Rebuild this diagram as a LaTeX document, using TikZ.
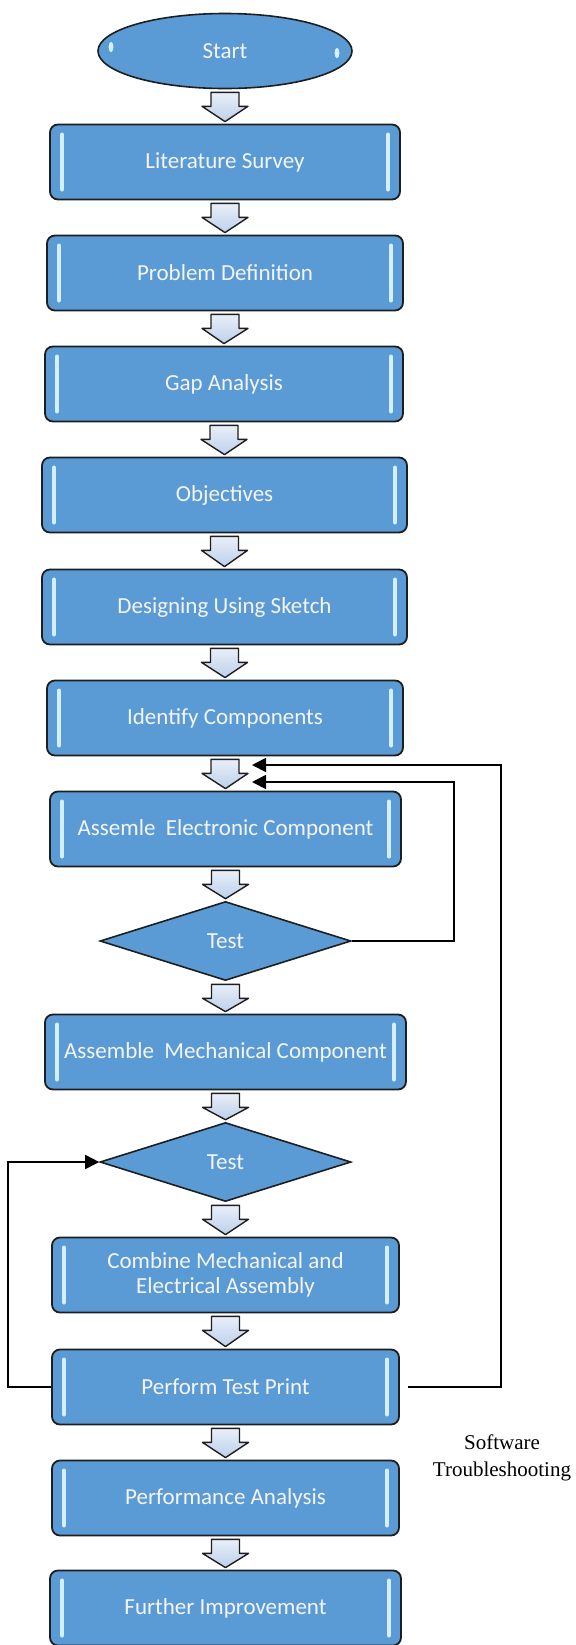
\documentclass[tikz,border=0pt]{standalone}
\usepackage{fontspec}
\setmainfont{Carlito}
\newfontfamily\notefont{Liberation Serif}
\usepackage{tikz}
\usepackage{xcolor}
\usetikzlibrary{shapes.geometric,arrows.meta,calc}

\definecolor{stepblue}{HTML}{5B9BD5}
\definecolor{stepedge}{HTML}{1E1E1E}
\definecolor{steptext}{HTML}{F4F4F4}
\definecolor{glint}{HTML}{D4EFFF}
\definecolor{arrowtop}{HTML}{E8EFF9}
\definecolor{arrowlow}{HTML}{BDD0EA}

\newcommand{\flowarrow}[2]{\draw[blockarrow] ($(#1.south)+(-14,3)$) -- ++(0,14) -- ++(-9,0) -- ($(#2.north)+(0,-2)$) -- ($(#1.south)+(23,17)$) -- ++(-9,0) -- ++(0,-14) -- cycle;}

\begin{document}
\begin{tikzpicture}[x=0.5pt,y=-0.5pt,
  stepfont/.style={font=\fontsize{11.5}{12.5}\selectfont},
  stepbox/.style={rectangle, rounded corners=4pt, draw=stepedge, line width=0.9pt, fill=stepblue, text=steptext, stepfont, minimum height=37.5pt, inner sep=2pt, align=center,
    path picture={
      \draw[glint, line width=2pt, line cap=round] ([xshift=6pt,yshift=-5pt]path picture bounding box.north west) -- ([xshift=6pt,yshift=5pt]path picture bounding box.south west);
      \draw[glint, line width=2pt, line cap=round] ([xshift=-6pt,yshift=-5pt]path picture bounding box.north east) -- ([xshift=-6pt,yshift=5pt]path picture bounding box.south east);}},
  testdiamond/.style={diamond, aspect=3.2, draw=stepedge, line width=0.8pt, fill=stepblue, text=steptext, stepfont, minimum width=125.5pt, minimum height=39.5pt, inner sep=0pt},
  startnode/.style={ellipse, draw=stepedge, line width=0.8pt, fill=stepblue, text=steptext, stepfont, minimum width=127pt, minimum height=37.5pt, inner sep=0pt},
  blockarrow/.style={draw=stepedge, line width=0.7pt, top color=arrowtop, bottom color=arrowlow, line join=round},
  fback/.style={draw=black, line width=0.9pt, -{Triangle[length=7pt,width=7pt]}},
  notelabel/.style={font=\notefont\fontsize{10.5}{13.5}\selectfont, align=center, inner sep=0pt}]
\fill[white] (0,0) rectangle (575,1645);
\useasboundingbox (0,0) rectangle (575,1645);
\node[startnode] (start) at (225,51) {Start};
\node[stepbox, minimum width=175pt] (lit) at (225,162) {Literature Survey};
\node[stepbox, minimum width=178pt] (prob) at (225,273) {Problem Definition};
\node[stepbox, minimum width=179pt] (gap) at (224,384) {Gap Analysis};
\node[stepbox, minimum width=182.5pt] (obj) at (224.5,495) {Objectives};
\node[stepbox, minimum width=182.5pt] (sketch) at (224.5,607) {Designing Using Sketch};
\node[stepbox, minimum width=178pt] (ident) at (225,718) {Identify Components};
\node[stepbox, minimum width=175.5pt] (elec) at (225.5,829) {Assemle\ \ Electronic Component};
\node[testdiamond] (test1) at (225.5,941) {Test};
\node[stepbox, minimum width=180.5pt] (mech) at (225.5,1052) {Assemble\ \ Mechanical Component};
\node[testdiamond] (test2) at (225.5,1162) {Test};
\node[stepbox, minimum width=173.5pt] (comb) at (225.5,1275) {Combine Mechanical and\\Electrical Assembly};
\node[stepbox, minimum width=173.5pt] (ptest) at (225.5,1387) {Perform Test Print};
\node[stepbox, minimum width=173.5pt] (perf) at (225.5,1498) {Performance Analysis};
\node[stepbox, minimum width=175.5pt] (impr) at (225.5,1608) {Further Improvement};
\node[notelabel] (swnote) at (502,1458) {Software\\Troubleshooting};
\fill[glint] ([xshift=-57pt,yshift=2pt]start.center) ellipse (1.2pt and 2.6pt);
\fill[glint] ([xshift=56pt,yshift=-1pt]start.center) ellipse (1.2pt and 2.6pt);
\flowarrow{start}{lit}
\flowarrow{lit}{prob}
\flowarrow{prob}{gap}
\flowarrow{gap}{obj}
\flowarrow{obj}{sketch}
\flowarrow{sketch}{ident}
\flowarrow{ident}{elec}
\flowarrow{elec}{test1}
\flowarrow{test1}{mech}
\flowarrow{mech}{test2}
\flowarrow{test2}{comb}
\flowarrow{comb}{ptest}
\flowarrow{ptest}{perf}
\flowarrow{perf}{impr}
\coordinate (elecin) at (252,782);
\coordinate (printin) at (252,765);
\draw[fback] (test1.east) -- ++(102,0) |- (elecin);
\draw[fback] ([xshift=4pt]ptest.east) -- ++(93,0) |- (printin);
\draw[fback] (ptest.west) -- ++(-43,0) |- (test2.west);
\end{tikzpicture}
\end{document}
